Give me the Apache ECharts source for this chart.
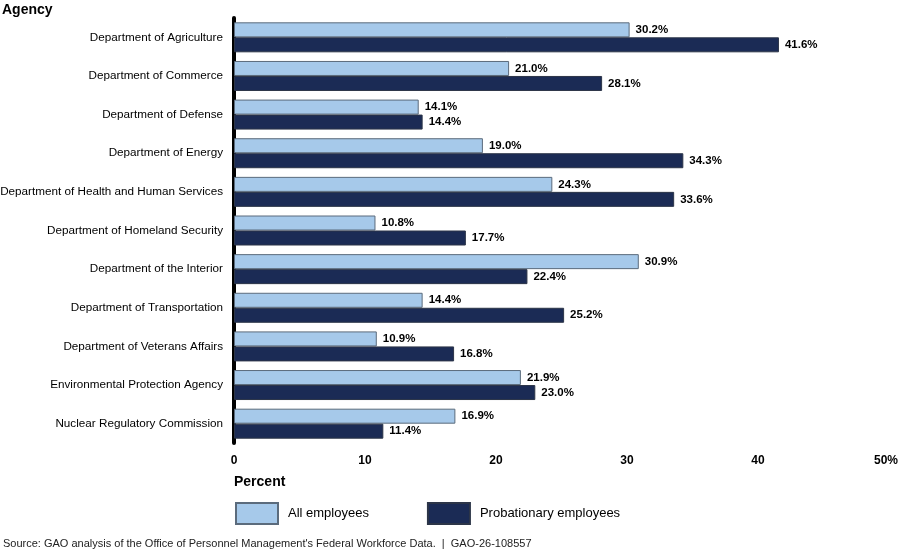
<!DOCTYPE html>
<html>
<head>
<meta charset="utf-8">
<script src="https://cdn.jsdelivr.net/npm/echarts@6/dist/echarts.min.js"></script>
<style>
  html, body { margin: 0; padding: 0; background: #fff; }
  #chart { width: 900px; height: 551px; }
</style>
</head>
<body>
<div id="chart"></div>
<script>
const agencies = [
  'Department of Agriculture',
  'Department of Commerce',
  'Department of Defense',
  'Department of Energy',
  'Department of Health and Human Services',
  'Department of Homeland Security',
  'Department of the Interior',
  'Department of Transportation',
  'Department of Veterans Affairs',
  'Environmental Protection Agency',
  'Nuclear Regulatory Commission'
];
const allEmployees = [30.2, 21.0, 14.1, 19.0, 24.3, 10.8, 30.9, 14.4, 10.9, 21.9, 16.9];
const probationary = [41.6, 28.1, 14.4, 34.3, 33.6, 17.7, 22.4, 25.2, 16.8, 23.0, 11.4];
const xTicks = [0, 10, 20, 30, 40, 50];

let chartDom = document.getElementById('chart');
let myChart = echarts.init(chartDom);
let option;

const barLabel = {
  show: true,
  position: 'right',
  distance: 6,
  color: '#000',
  fontWeight: 'bold',
  fontSize: 11.5,
  formatter: p => p.value.toFixed(1) + '%'
};

option = {
  animation: false,
  textStyle: { fontFamily: 'Liberation Sans, Arial, sans-serif' },
  grid: { left: 234, right: 11, top: 18, bottom: 108, containLabel: false, outerBoundsMode: 'none' },
  legend: {
    left: 235,
    top: 502,
    padding: 0,
    itemWidth: 42,
    itemHeight: 21,
    itemGap: 58,
    icon: 'rect',
    textStyle: { fontSize: 13, color: '#000', padding: [0, 0, 0, 5] },
    data: ['All employees', 'Probationary employees']
  },
  xAxis: {
    type: 'value',
    min: 0,
    max: 50,
    interval: 10,
    axisLine: { show: false },
    axisTick: { show: false },
    splitLine: { show: false },
    axisLabel: {
      margin: 12,
      color: '#000',
      fontWeight: 'bold',
      fontSize: 12,
      formatter: v => xTicks.indexOf(v) === xTicks.length - 1 ? '{last|' + v + '%}' : String(v),
      rich: { last: { fontWeight: 'bold', fontSize: 12, color: '#000', padding: [0, 6, 0, 0] } }
    }
  },
  yAxis: {
    type: 'category',
    inverse: true,
    data: agencies,
    axisLine: { show: true, lineStyle: { color: '#000', width: 4 } },
    axisTick: { show: false },
    axisLabel: { color: '#000', fontSize: 11.7, margin: 11 }
  },
  series: [
    {
      name: 'All employees',
      type: 'bar',
      data: allEmployees,
      barWidth: 15,
      barGap: '0%',
      itemStyle: { color: '#a6c9ea', borderColor: '#5b6b7c', borderWidth: 1 },
      label: barLabel
    },
    {
      name: 'Probationary employees',
      type: 'bar',
      data: probationary,
      barWidth: 15,
      itemStyle: { color: '#1b2b55', borderColor: '#2c3548', borderWidth: 1 },
      label: barLabel
    }
  ],
  graphic: [
    { type: 'text', left: 2, top: 3, style: { text: 'Agency', font: 'bold 14px Liberation Sans, Arial', fill: '#000' } },
    { type: 'text', left: 234, top: 475, style: { text: 'Percent', font: 'bold 14px Liberation Sans, Arial', fill: '#000' } },
    { type: 'text', left: 3, top: 538, style: { text: "Source: GAO analysis of the Office of Personnel Management's Federal Workforce Data.  |  GAO-26-108557", font: '11px Liberation Sans, Arial', fill: '#222' } }
  ]
};
option && myChart.setOption(option);
</script>
</body>
</html>
